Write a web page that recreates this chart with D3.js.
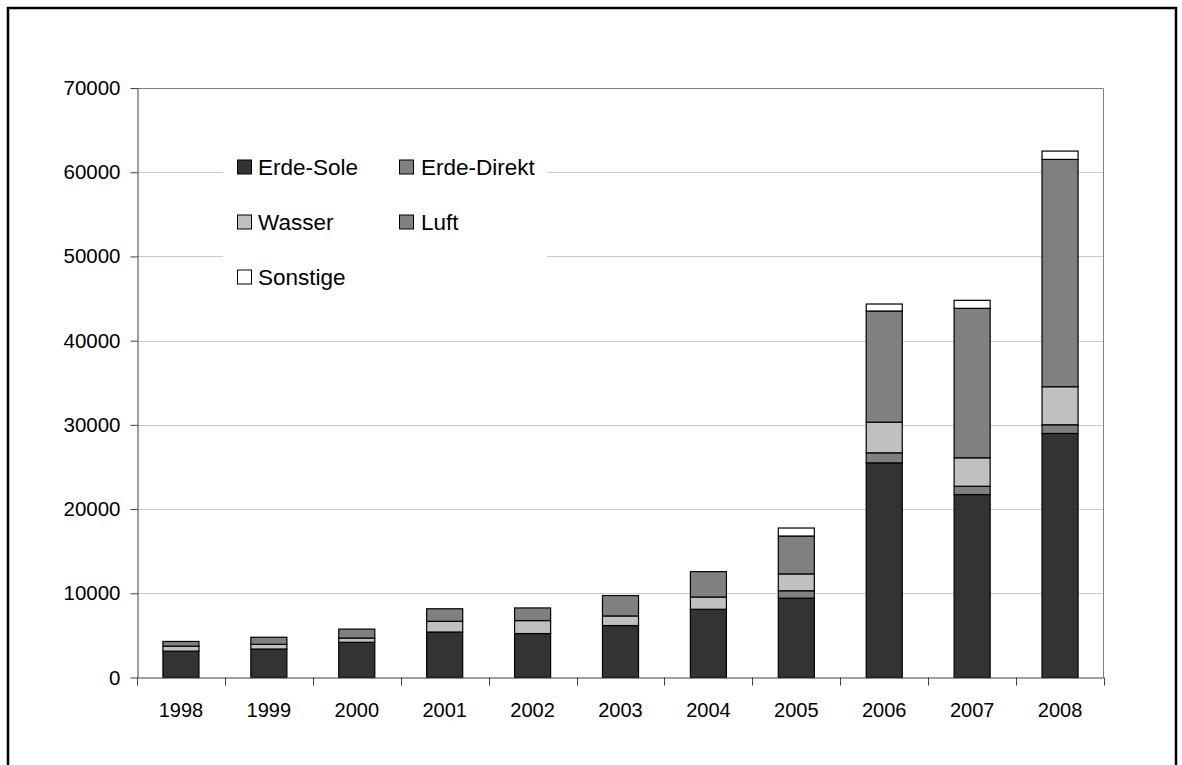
<!DOCTYPE html>
<html>
<head>
<meta charset="utf-8">
<script src="https://cdn.jsdelivr.net/npm/d3@7"></script>
<style>
  html, body { margin: 0; padding: 0; background: #fff; }
  svg { display: block; font-family: "Liberation Sans", Arial, sans-serif; }
</style>
</head>
<body>
<svg id="chart" width="1182" height="765"></svg>
<script>
// Heat pump sales per year, split by heat source
const years      = ["1998","1999","2000","2001","2002","2003","2004","2005","2006","2007","2008"];
const erdeSole   = [3130, 3380, 4180, 5400, 5220, 6170, 8100, 9420, 25490, 21720, 28980];
const erdeDirekt = [0, 0, 0, 0, 0, 0, 0, 880, 1190, 990, 1030];
const wasser     = [590, 560, 510, 1270, 1540, 1140, 1460, 2000, 3640, 3380, 4520];
const luft       = [560, 840, 1060, 1490, 1500, 2420, 3010, 4500, 13200, 17750, 26990];
const sonstige   = [0, 0, 0, 0, 0, 0, 0, 950, 830, 950, 990];
const yTicks     = [0, 10000, 20000, 30000, 40000, 50000, 60000, 70000];

const seriesNames  = ["Erde-Sole", "Erde-Direkt", "Wasser", "Luft", "Sonstige"];
const seriesValues = [erdeSole, erdeDirekt, wasser, luft, sonstige];
const seriesColors = ["#333333", "#808080", "#c0c0c0", "#808080", "#ffffff"];

const rows = years.map((y, i) => {
  const r = { year: y };
  seriesNames.forEach((n, k) => { r[n] = seriesValues[k][i]; });
  return r;
});

const svg = d3.select("#chart");

// outer frame
svg.append("rect")
  .attr("x", 8).attr("y", 8).attr("width", 1168).attr("height", 790)
  .attr("fill", "#fff").attr("stroke", "#000").attr("stroke-width", 2.5);

const plotLeft = 137, plotRight = 1104, plotTop = 88, plotBottom = 677.5;

const x = d3.scaleBand().domain(years).range([plotLeft, plotRight])
  .paddingInner(0.59).paddingOuter(0.295);
const y = d3.scaleLinear().domain([0, 70000]).range([plotBottom, plotTop]);

// gridlines
svg.append("g").selectAll("line")
  .data(yTicks.filter(t => t > 0 && t < 70000))
  .join("line")
  .attr("x1", plotLeft).attr("x2", plotRight)
  .attr("y1", d => Math.round(y(d)) + 0.5).attr("y2", d => Math.round(y(d)) + 0.5)
  .attr("stroke", "#c8c8c8").attr("stroke-width", 1);

// plot-area border top and right
svg.append("path")
  .attr("d", `M${plotLeft},${Math.round(y(70000)) + 0.5}H${plotRight - 0.5}V${plotBottom}`)
  .attr("fill", "none").attr("stroke", "#808080").attr("stroke-width", 1);

// legend background (covers gridlines)
svg.append("rect")
  .attr("x", 223).attr("y", 140).attr("width", 324).attr("height", 160)
  .attr("fill", "#fff");

// stacked bars
const stack = d3.stack().keys(seriesNames)(rows);
svg.append("g").selectAll("g")
  .data(stack)
  .join("g")
  .attr("fill", (d, i) => seriesColors[i])
  .selectAll("rect")
  .data(d => d.filter(s => s[1] - s[0] > 0))
  .join("rect")
  .attr("x", d => x(d.data.year))
  .attr("width", x.bandwidth())
  .attr("y", d => y(d[1]))
  .attr("height", d => y(d[0]) - y(d[1]))
  .attr("stroke", "#000").attr("stroke-width", 1.2);

// y axis
const yAxis = svg.append("g")
  .attr("transform", `translate(${plotLeft + 0.5},0)`)
  .call(d3.axisLeft(y).tickValues(yTicks).tickFormat(d3.format("d")).tickSize(7).tickPadding(10).tickSizeOuter(0));
yAxis.select(".domain").attr("stroke", "#404040");
yAxis.selectAll(".tick line").attr("stroke", "#404040");
yAxis.selectAll("text").attr("font-size", 20.5).attr("fill", "#000")
  .attr("font-family", "Liberation Sans, Arial, sans-serif");

// x axis labels
const xAxis = svg.append("g")
  .attr("transform", `translate(0,${plotBottom})`)
  .call(d3.axisBottom(x).tickSize(0).tickPadding(25));
xAxis.select(".domain").attr("d", `M${plotLeft},0.5H${plotRight}`).attr("stroke", "#404040");
xAxis.selectAll("text").attr("font-size", 20).attr("fill", "#000")
  .attr("font-family", "Liberation Sans, Arial, sans-serif");

// x tick marks on category boundaries
const boundaries = d3.range(years.length + 1).map(i => plotLeft + i * x.step());
svg.append("g").selectAll("line")
  .data(boundaries)
  .join("line")
  .attr("x1", d => Math.round(d) + 0.5).attr("x2", d => Math.round(d) + 0.5)
  .attr("y1", plotBottom).attr("y2", plotBottom + 8)
  .attr("stroke", "#404040");

// legend
const legendPos = [
  { sx: 237.5, tx: 258, cy: 167 },
  { sx: 399.5, tx: 421, cy: 167 },
  { sx: 237.5, tx: 258, cy: 222 },
  { sx: 399.5, tx: 421, cy: 222 },
  { sx: 237.5, tx: 258, cy: 277 }
];
const lg = svg.append("g").selectAll("g")
  .data(seriesNames)
  .join("g");
lg.append("rect")
  .attr("x", (d, i) => legendPos[i].sx)
  .attr("y", (d, i) => legendPos[i].cy - 7)
  .attr("width", 14).attr("height", 14)
  .attr("fill", (d, i) => seriesColors[i])
  .attr("stroke", "#000").attr("stroke-width", 1);
lg.append("text")
  .attr("x", (d, i) => legendPos[i].tx)
  .attr("y", (d, i) => legendPos[i].cy + 8)
  .attr("font-size", 22.5)
  .attr("fill", "#000")
  .text(d => d);
</script>
</body>
</html>
